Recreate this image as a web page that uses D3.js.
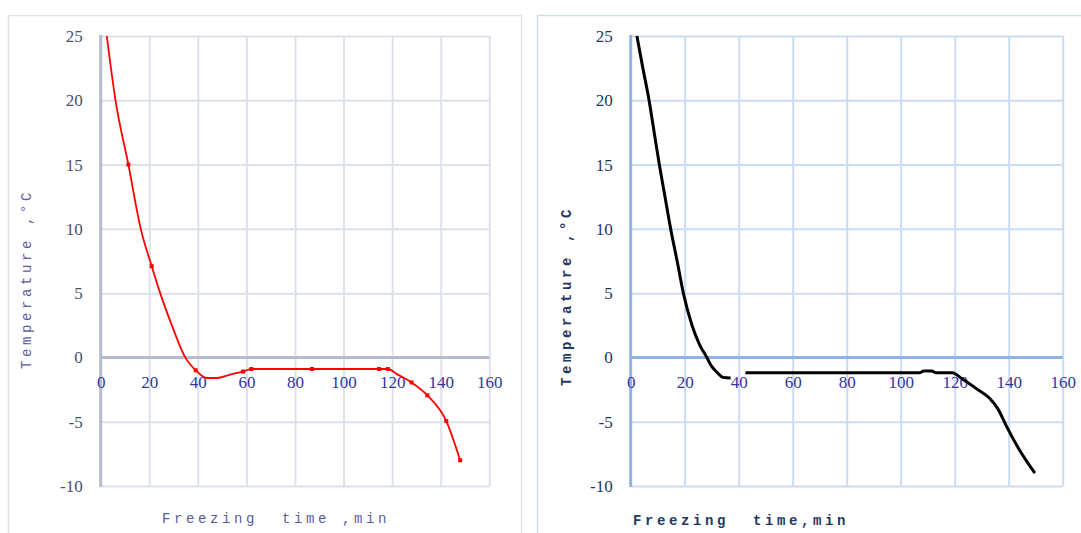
<!DOCTYPE html>
<html><head><meta charset="utf-8">
<script src="https://cdn.jsdelivr.net/npm/d3@7"></script>
<style>
html,body{margin:0;padding:0;background:#fff;}
svg{display:block;}
</style></head>
<body>
<svg id="chart" width="1081" height="533"></svg>
<script>
// ---- data ----
const xTicks = [0, 20, 40, 60, 80, 100, 120, 140, 160];
const yTicks = [-10, -5, 0, 5, 10, 15, 20, 25];
const yTitle = "Temperature ,°C";
const xTitleLeft = "Freezing  time ,min";
const xTitleRight = "Freezing  time,min";

// left chart (red) : freezing time (min), temperature (°C)
const redTime = [2.5, 6.1, 11.4, 16.5, 21, 24.5, 29.5, 34.8, 39.1, 43.7, 48, 53, 58.6, 62, 87, 114.6, 118.2, 122, 128, 134.5, 142.3, 148];
const redTemp = [25, 20, 15, 10, 7.1, 5, 2.4, 0, -1, -1.6, -1.6, -1.35, -1.1, -0.9, -0.9, -0.9, -0.9, -1.3, -1.95, -2.95, -4.95, -8];
const redMarkers = [11.4, 21, 39.1, 58.6, 62, 87, 114.6, 118.2, 128, 134.5, 142.3, 148];

// right chart (black); null = gap in the curve
const blackTime = [2.3, 4.5, 6.8, 8.7, 10.6, 12.7, 14.8, 17.2, 19.5, 22.7, 25.5, 28.2, 30, 31.7, 34.2, 37, 40, 42.5, 60, 80, 100, 107, 108.5, 111.5, 113, 119, 123, 128.5, 133, 136, 139.3, 144, 149.7];
const blackTemp = [25, 22.5, 20, 17.5, 15, 12.5, 10, 7.5, 5, 2.5, 1, 0, -0.7, -1.1, -1.55, -1.6, null, -1.2, -1.2, -1.2, -1.2, -1.2, -1.05, -1.05, -1.2, -1.2, -1.7, -2.5, -3.2, -4.0, -5.4, -7.2, -9.0];

// ---- drawing ----
const svg = d3.select("#chart");
const yTop = 36, yBot = 486;

function panel(opts) {
  const g = svg.append("g");
  g.append("rect").attr("x", opts.frame[0]).attr("y", opts.frame[1])
    .attr("width", opts.frame[2]).attr("height", opts.frame[3])
    .attr("fill", "none").attr("stroke", opts.frameColor).attr("stroke-width", 1.5);

  const x = d3.scaleLinear().domain([0, 160]).range(opts.xRange);
  const y = d3.scaleLinear().domain([-10, 25]).range([yBot, yTop]);
  const w = opts.xRange[1] - opts.xRange[0];
  const h = yBot - yTop;

  // vertical grid
  g.append("g").attr("transform", `translate(0,${yBot})`)
    .call(d3.axisBottom(x).tickValues(xTicks.filter(d => d !== 0)).tickSize(h).tickFormat(""))
    .call(a => a.select(".domain").remove())
    .call(a => a.selectAll("line").attr("y2", -h).attr("stroke", opts.grid).attr("stroke-width", 2));
  // horizontal grid
  g.append("g").attr("transform", `translate(${opts.xRange[0]},0)`)
    .call(d3.axisLeft(y).tickValues(yTicks.filter(d => d !== 0)).tickSize(-w).tickFormat(""))
    .call(a => a.select(".domain").remove())
    .call(a => a.selectAll("line").attr("stroke", opts.grid).attr("stroke-width", 2));

  // axis lines at zero
  g.append("line").attr("x1", x(0)).attr("x2", x(160)).attr("y1", y(0)).attr("y2", y(0))
    .attr("stroke", opts.axis).attr("stroke-width", 3);
  g.append("line").attr("x1", x(0)).attr("x2", x(0)).attr("y1", y(25) - 1).attr("y2", y(-10) + 1)
    .attr("stroke", opts.axis).attr("stroke-width", 3);

  // y tick labels
  g.append("g").attr("transform", `translate(${x(0)},0)`)
    .call(d3.axisLeft(y).tickValues(yTicks).tickSize(0).tickPadding(18).tickFormat(d => String(d)))
    .call(a => a.select(".domain").remove())
    .call(a => a.selectAll("text").attr("fill", opts.yLabel)
      .style("font-family", "'Liberation Serif', serif").style("font-size", "17px"));

  // x tick labels (along zero line)
  g.append("g").attr("transform", `translate(0,${y(0)})`)
    .call(d3.axisBottom(x).tickValues(xTicks).tickSize(0).tickFormat(d => String(d)))
    .call(a => a.select(".domain").remove())
    .call(a => a.selectAll("text").attr("fill", opts.xLabel).attr("dy", null).attr("y", 31)
      .style("font-family", "'Liberation Serif', serif").style("font-size", "17px"));

  // titles
  g.append("text").attr("transform", `translate(${opts.yTitlePos[0]},${opts.yTitlePos[1]}) rotate(-90)`)
    .attr("text-anchor", "middle").attr("fill", opts.titleColor)
    .style("font-family", "'Liberation Mono', 'Courier New', monospace")
    .style("font-size", "14px").style("font-weight", opts.titleWeight)
    .style("letter-spacing", "3.6px").text(yTitle);
  g.append("text").attr("x", opts.xTitlePos[0]).attr("y", opts.xTitlePos[1])
    .attr("fill", opts.titleColor)
    .style("font-family", "'Liberation Mono', 'Courier New', monospace")
    .style("font-size", "14px").style("font-weight", opts.titleWeight)
    .style("letter-spacing", "3.6px").style("white-space", "pre").text(opts.xTitle);

  return { g, x, y };
}

const L = panel({
  frame: [8.5, 15.5, 513, 540], frameColor: "#dfe3e8",
  xRange: [100.7, 489.3], grid: "#dde2ea", axis: "#b3bccc",
  yLabel: "#44546a", xLabel: "#34349e", titleColor: "#5c5c9c", titleWeight: "normal",
  yTitlePos: [31, 279], xTitlePos: [162, 523], xTitle: xTitleLeft
});
const R = panel({
  frame: [537.5, 15.5, 560, 540], frameColor: "#d3deec",
  xRange: [630.7, 1062.7], grid: "#cadcf2", axis: "#8fb4e3",
  yLabel: "#1f3864", xLabel: "#34349e", titleColor: "#1f3864", titleWeight: "bold",
  yTitlePos: [571, 296], xTitlePos: [633, 525], xTitle: xTitleRight
});

// red series
const redData = redTime.map((t, i) => ({ t, v: redTemp[i] }));
L.g.append("path").datum(redData)
  .attr("fill", "none").attr("stroke", "#ff0000").attr("stroke-width", 1.8)
  .attr("d", d3.line().x(d => L.x(d.t)).y(d => L.y(d.v)).curve(d3.curveMonotoneX));
L.g.selectAll("rect.mk").data(redData.filter(d => redMarkers.includes(d.t)))
  .join("rect").attr("class", "mk")
  .attr("x", d => L.x(d.t) - 2).attr("y", d => L.y(d.v) - 2)
  .attr("width", 4).attr("height", 4).attr("fill", "#ff0000");

// black series
const blackData = blackTime.map((t, i) => ({ t, v: blackTemp[i] }));
R.g.append("path").datum(blackData)
  .attr("fill", "none").attr("stroke", "#000").attr("stroke-width", 3)
  .attr("stroke-linejoin", "round")
  .attr("d", d3.line().defined(d => d.v !== null).x(d => R.x(d.t)).y(d => R.y(d.v)).curve(d3.curveMonotoneX));
</script>
</body></html>
